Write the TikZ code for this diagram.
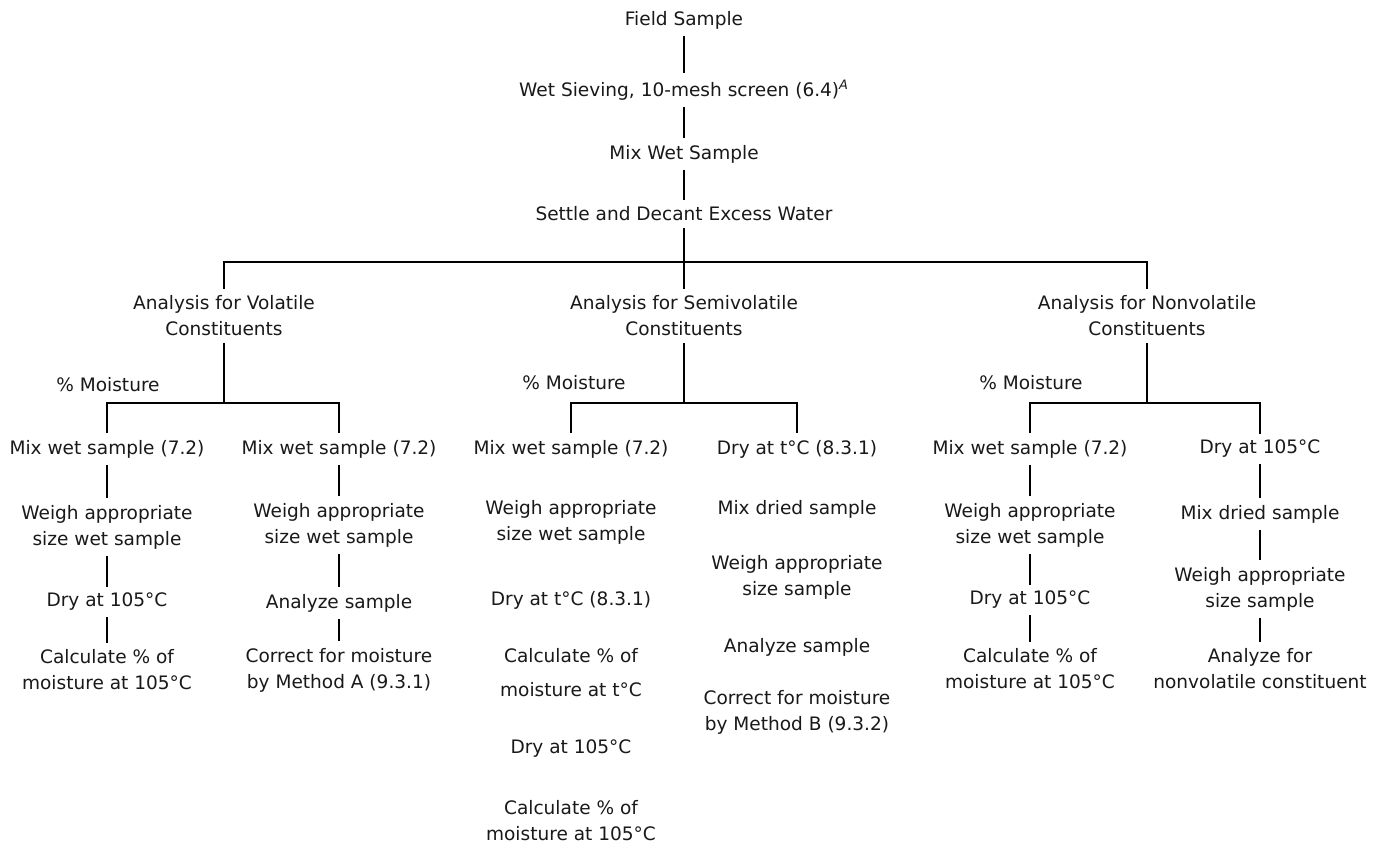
\documentclass[tikz,border=0pt]{standalone}
\usepackage{fontspec}
\setmainfont{DejaVu Sans}
\begin{document}
\begin{tikzpicture}[x=0.75pt,y=-0.75pt]
    \tikzstyle{stage} = [align=center, inner sep=2pt, outer sep=3pt, text=black!90, font=\fontsize{13.9}{19.5}\selectfont]
    \tikzstyle{link} = [line width=1.6pt]
    \useasboundingbox[fill=white] (0,0) rectangle (1379,847);

    % common trunk
    \node (field) [stage] at (684,20) {Field Sample};
    \node (sieve) [stage] at (684,90) {Wet Sieving, 10-mesh screen (6.4)\textsuperscript{\itshape A}};
    \node (mixwet) [stage] at (684,154) {Mix Wet Sample};
    \node (settle) [stage] at (684,214) {Settle and Decant Excess Water};
    \coordinate (split) at (684,262);

    \node (vol) [stage] at (224,316) {Analysis for Volatile\\Constituents};
    \node (semi) [stage] at (684,316) {Analysis for Semivolatile\\Constituents};
    \node (nonvol) [stage] at (1147,316) {Analysis for Nonvolatile\\Constituents};

    \coordinate (volsplit) at (224,403);
    \coordinate (semisplit) at (684,403);
    \coordinate (nonsplit) at (1147,403);
    \node (volmoist) [stage] at (108,385) {\% Moisture};
    \node (semimoist) [stage] at (574,383) {\% Moisture};
    \node (nonmoist) [stage] at (1031,383) {\% Moisture};

    % volatile
    \node (v1a) [stage] at (107,449) {Mix wet sample (7.2)};
    \node (v1b) [stage] at (107,527) {Weigh appropriate\\size wet sample};
    \node (v1c) [stage] at (107,602) {Dry at 105°C};
    \node (v1d) [stage] at (107,670) {Calculate \% of\\moisture at 105°C};
    \node (v2a) [stage] at (339,449) {Mix wet sample (7.2)};
    \node (v2b) [stage] at (339,525) {Weigh appropriate\\size wet sample};
    \node (v2c) [stage] at (339,603) {Analyze sample};
    \node (v2d) [stage] at (339,670) {Correct for moisture\\by Method A (9.3.1)};

    % semivolatile
    \node (s1a) [stage] at (571,449) {Mix wet sample (7.2)};
    \node (s1b) [stage] at (571,522) {Weigh appropriate\\size wet sample};
    \node (s1c) [stage] at (571,600) {Dry at t°C (8.3.1)};
    \node (s1d) [stage] at (571,673) {Calculate \% of\\[6pt]moisture at t°C};
    \node (s1e) [stage] at (571,749) {Dry at 105°C};
    \node (s1f) [stage] at (571,821) {Calculate \% of\\moisture at 105°C};
    \node (s2a) [stage] at (797,449) {Dry at t°C (8.3.1)};
    \node (s2b) [stage] at (797,509) {Mix dried sample};
    \node (s2c) [stage] at (797,577) {Weigh appropriate\\size sample};
    \node (s2d) [stage] at (797,647) {Analyze sample};
    \node (s2e) [stage] at (797,712) {Correct for moisture\\by Method B (9.3.2)};

    % nonvolatile
    \node (n1a) [stage] at (1030,449) {Mix wet sample (7.2)};
    \node (n1b) [stage] at (1030,525) {Weigh appropriate\\size wet sample};
    \node (n1c) [stage] at (1030,600) {Dry at 105°C};
    \node (n1d) [stage] at (1030,669) {Calculate \% of\\moisture at 105°C};
    \node (n2a) [stage] at (1260,449) {Dry at 105°C};
    \node (n2b) [stage] at (1260,514) {Mix dried sample};
    \node (n2c) [stage] at (1260,589) {Weigh appropriate\\size sample};
    \node (n2d) [stage] at (1260,669) {Analyze for\\nonvolatile constituent};

    \draw [link] (field) -- (sieve);
    \draw [link] (sieve) -- (mixwet);
    \draw [link] (mixwet) -- (settle);
    \draw [link] (settle) -- (split) -- (semi);
    \draw [link] (vol) |- (split) -| (nonvol);

    \draw [link] (vol) -- (volsplit);
    \draw [link] (v1a) |- (volsplit) -| (v2a);
    \draw [link] (semi) -- (semisplit);
    \draw [link] (s1a) |- (semisplit) -| (s2a);
    \draw [link] (nonvol) -- (nonsplit);
    \draw [link] (n1a) |- (nonsplit) -| (n2a);

    \draw [link] (v1a) -- (v1b);
    \draw [link] (v1b) -- (v1c);
    \draw [link] (v1c) -- (v1d);
    \draw [link] (v2a) -- (v2b);
    \draw [link] (v2b) -- (v2c);
    \draw [link] (v2c) -- (v2d);
    \draw [link] (n1a) -- (n1b);
    \draw [link] (n1b) -- (n1c);
    \draw [link] (n1c) -- (n1d);
    \draw [link] (n2a) -- (n2b);
    \draw [link] (n2b) -- (n2c);
    \draw [link] (n2c) -- (n2d);
\end{tikzpicture}
\end{document}
